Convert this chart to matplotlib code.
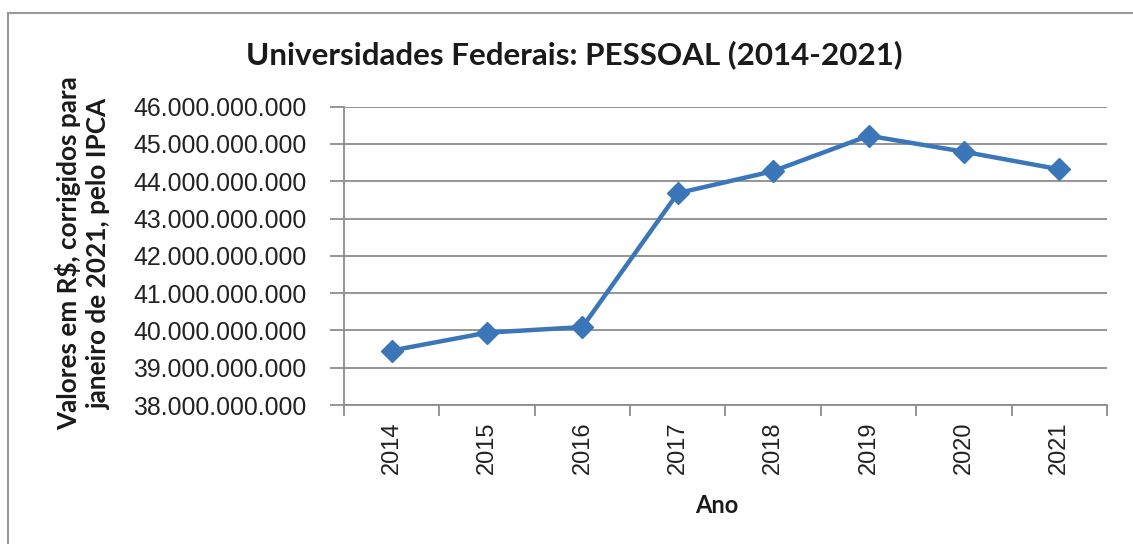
import matplotlib.pyplot as plt
from matplotlib.lines import Line2D
from matplotlib.ticker import FuncFormatter, MultipleLocator

# Gasto com pessoal, valores corrigidos pelo IPCA (jan/2021)
anos = ["2014", "2015", "2016", "2017", "2018", "2019", "2020", "2021"]
pessoal = [39.46e9, 39.94e9, 40.09e9, 43.68e9, 44.27e9, 45.22e9, 44.79e9, 44.32e9]

title_font = "Lato"
tick_font = "Liberation Sans"
line_color = "#3B76B9"
grid_color = "#8C8C8C"

fig = plt.figure(figsize=(11.33, 5.44), dpi=100)
ax = fig.add_axes([0.3036, 0.2555, 0.6734, 0.5485])

x = range(len(anos))
ax.plot(x, pessoal, color=line_color, lw=3.2, marker="D", ms=11,
        markerfacecolor=line_color, markeredgecolor=line_color, zorder=3)

ax.set_xlim(-0.5, len(anos) - 0.5)
ax.set_ylim(38e9, 46e9)
ax.yaxis.set_major_locator(MultipleLocator(1e9))
ax.yaxis.set_major_formatter(
    FuncFormatter(lambda v, _: f"{v:,.0f}".replace(",", "."))
)
ax.set_xticks(list(x))
ax.set_xticklabels(anos, rotation=90, fontsize=17, family=tick_font)
ax.set_xticks([i - 0.5 for i in range(len(anos) + 1)], minor=True)
ax.tick_params(axis="x", which="major", length=0, pad=12)
ax.tick_params(axis="x", which="minor", length=8, width=1.3, color=grid_color)
ax.tick_params(axis="y", length=10, width=1.3, color=grid_color, pad=17)
for lbl in ax.get_yticklabels():
    lbl.set_fontsize(17.9)
    lbl.set_family(tick_font)
    lbl.set_color("#222222")
for lbl in ax.get_xticklabels():
    lbl.set_color("#222222")

ax.grid(axis="y", color=grid_color, lw=1.3)
ax.set_axisbelow(True)
for side in ["top", "right"]:
    ax.spines[side].set_visible(False)
for side in ["left", "bottom"]:
    ax.spines[side].set_color(grid_color)
    ax.spines[side].set_linewidth(1.3)

# Titulos
fig.text(0.507, 0.899, "Universidades Federais: PESSOAL (2014-2021)",
         ha="center", va="center", fontsize=22.6, fontweight="bold",
         family=title_font, color="#1a1a1a")
fig.text(0.633, 0.07, "Ano", ha="center", va="center", fontsize=17,
         fontweight="bold", family=title_font, color="#1a1a1a")
fig.text(0.073, 0.535, "Valores em R$, corrigidos para\njaneiro de 2021, pelo IPCA",
         ha="center", va="center", rotation=90, fontsize=18.8, fontweight="bold",
         family=title_font, color="#1a1a1a", linespacing=1.3)

# Moldura do grafico
fig.add_artist(Line2D([0.007, 0.007], [0.0, 0.976], color="#999999", lw=1.5))
fig.add_artist(Line2D([0.007, 1.0], [0.976, 0.976], color="#999999", lw=1.5))

fig.savefig("out.png", dpi=100)
